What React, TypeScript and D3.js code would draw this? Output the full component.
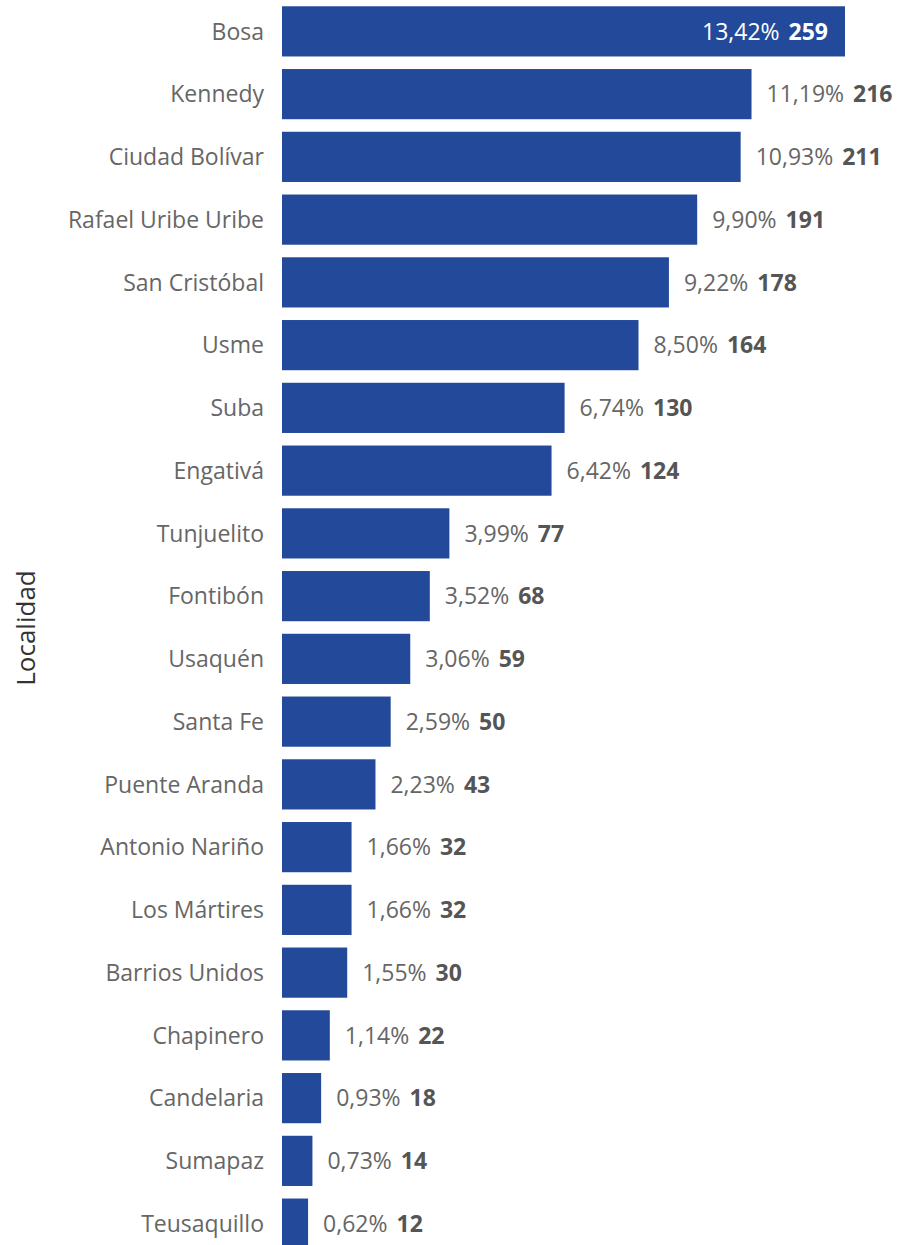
import * as d3 from "d3";
import React, { useEffect, useRef } from "react";

const localidades = [
  "Bosa", "Kennedy", "Ciudad Bolívar", "Rafael Uribe Uribe", "San Cristóbal",
  "Usme", "Suba", "Engativá", "Tunjuelito", "Fontibón", "Usaquén", "Santa Fe",
  "Puente Aranda", "Antonio Nariño", "Los Mártires", "Barrios Unidos",
  "Chapinero", "Candelaria", "Sumapaz", "Teusaquillo",
];
const casos = [259, 216, 211, 191, 178, 164, 130, 124, 77, 68, 59, 50, 43, 32, 32, 30, 22, 18, 14, 12];
const porcentajes = [
  "13,42%", "11,19%", "10,93%", "9,90%", "9,22%", "8,50%", "6,74%", "6,42%",
  "3,99%", "3,52%", "3,06%", "2,59%", "2,23%", "1,66%", "1,66%", "1,55%",
  "1,14%", "0,93%", "0,73%", "0,62%",
];

const W = 897;
const H = 1245;
const FONT = "'Open Sans', 'Noto Sans', sans-serif";
const barColor = "#234A9A";

export default function App() {
  const svgRef = useRef<SVGSVGElement>(null);

  useEffect(() => {
    const rows = localidades.map((name, i) => ({ name, value: casos[i], pct: porcentajes[i] }));

    const x = d3.scaleLinear().domain([0, 259]).range([282, 845]);
    const y = d3
      .scaleBand<string>()
      .domain(localidades)
      .range([0, 1255])
      .paddingInner(0.2)
      .paddingOuter(0.1);

    const svg = d3.select(svgRef.current);
    svg.selectAll("*").remove();
    svg.attr("width", W).attr("height", H).attr("viewBox", `0 0 ${W} ${H}`);

    // bars
    svg
      .append("g")
      .selectAll("rect")
      .data(rows)
      .join("rect")
      .attr("x", x(0))
      .attr("y", (d) => y(d.name)!)
      .attr("width", (d) => x(d.value) - x(0))
      .attr("height", y.bandwidth())
      .attr("fill", barColor);

    // category labels
    svg
      .append("g")
      .selectAll("text")
      .data(rows)
      .join("text")
      .attr("x", 264)
      .attr("y", (d) => y(d.name)! + y.bandwidth() / 2)
      .attr("dy", "0.36em")
      .attr("text-anchor", "end")
      .attr("font-family", FONT)
      .attr("font-size", 23)
      .attr("fill", "#666666")
      .text((d) => d.name);

    // data labels: inside the bar if it doesn't fit outside
    const labels = svg
      .append("g")
      .selectAll("text")
      .data(rows)
      .join("text")
      .attr("y", (d) => y(d.name)! + y.bandwidth() / 2)
      .attr("dy", "0.36em")
      .attr("font-family", FONT)
      .attr("font-size", 23);

    labels.each(function (d) {
      const t = d3.select(this);
      const inside = x(d.value) + 140 > W;
      t.attr("x", inside ? x(d.value) - 17 : x(d.value) + 15).attr("text-anchor", inside ? "end" : "start");
      t.append("tspan").attr("fill", inside ? "#ffffff" : "#666666").text(d.pct + " ");
      t.append("tspan")
        .attr("dx", 3)
        .attr("font-weight", "bold")
        .attr("fill", inside ? "#ffffff" : "#555555")
        .text(d.value);
    });

    // axis title
    svg
      .append("text")
      .attr("transform", `translate(35, 628) rotate(-90)`)
      .attr("text-anchor", "middle")
      .attr("font-family", FONT)
      .attr("font-size", 26)
      .attr("fill", "#333333")
      .text("Localidad");
  }, []);

  return (
    <div style={{ position: "fixed", left: 0, top: 0, width: W, height: H, background: "#fff", overflow: "hidden" }}>
      <svg ref={svgRef} style={{ display: "block" }} />
    </div>
  );
}
